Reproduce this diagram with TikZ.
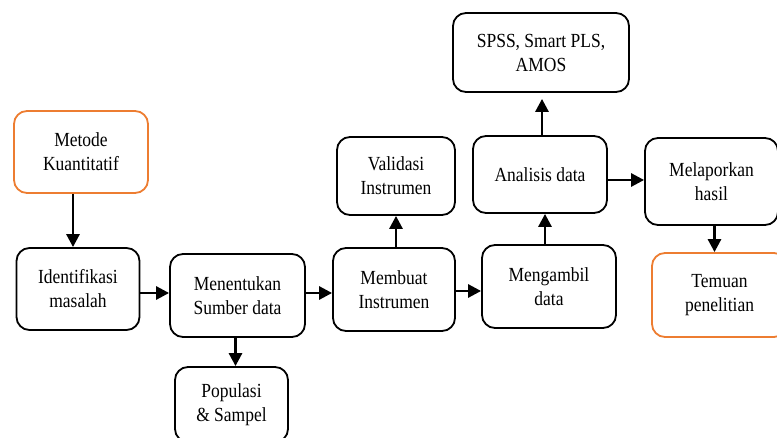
\documentclass[tikz,border=0pt]{standalone}
\usepackage{fontspec}
\setmainfont[FakeStretch=0.875]{Liberation Serif}
\usetikzlibrary{calc}
\usetikzlibrary{arrows.meta}
\tikzset{>=latex}
\definecolor{boxorange}{RGB}{237,125,49}
\tikzset{
  stepbox/.style={draw, line width=1.8pt, rounded corners=13pt, align=center,
    inner sep=0pt, font=\fontsize{20}{24}\selectfont},
  startbox/.style={stepbox, draw=boxorange},
  flow/.style={-{Triangle[length=13pt,width=13pt]}, line width=2.8pt},
}

\begin{document}
\begin{tikzpicture}[x=1pt,y=-1pt]
  \useasboundingbox (0,0) rectangle (777,438);
  \clip (0,0) rectangle (777,438);

  % Boxes
  \node[startbox, minimum width=134pt, minimum height=82pt] (met) at (81,152) {Metode\\Kuantitatif};
  \node[stepbox, minimum width=123pt, minimum height=82pt] (ide) at (78,289) {Identifikasi\\masalah};
  \node[stepbox, minimum width=135pt, minimum height=83pt] (men) at (237.5,295.5) {Menentukan\\Sumber data};
  \node[stepbox, minimum width=113pt, minimum height=75pt] (pop) at (231.5,404.5) {Populasi\\\& Sampel};
  \node[stepbox, minimum width=122pt, minimum height=83pt] (mem) at (394,289.5) {Membuat\\Instrumen};
  \node[stepbox, minimum width=118pt, minimum height=78pt] (val) at (396,176) {Validasi\\Instrumen};
  \node[stepbox, minimum width=134pt, minimum height=83pt] (amb) at (549,286.5) {Mengambil\\data};
  \node[stepbox, minimum width=134pt, minimum height=77pt] (ana) at (540,174.5) {Analisis data};
  \node[stepbox, minimum width=176pt, minimum height=79pt] (sps) at (541,52.5) {SPSS, Smart PLS,\\AMOS};
  \node[stepbox, minimum width=133pt, minimum height=87pt] (lap) at (711.5,181.5) {Melaporkan\\hasil};
  \node[startbox, minimum width=135pt, minimum height=84pt] (tem) at (719.5,295) {Temuan\\penelitian};

  % Arrows
  \draw[flow] ($(met.south)+(-8,0)$) -- ($(met.south |- ide.north)+(-8,0)$);
  \draw[flow] (ide.east |- 0,293) -- (men.west |- 0,293);
  \draw[flow] ($(men.south)+(-2,0)$) -- ($(men.south |- pop.north)+(-2,0)$);
  \draw[flow] (men.east |- 0,293) -- (mem.west |- 0,293);
  \draw[flow] ($(mem.north)+(2,0)$) -- ($(mem.north |- val.south)+(2,0)$);
  \draw[flow] (mem.east |- 0,291) -- (amb.west |- 0,291);
  \draw[flow] ($(amb.north)+(-4,0)$) -- ($(amb.north |- ana.south)+(-4,0)$);
  \draw[flow, shorten >=6pt] ($(ana.north)+(2,0)$) -- ($(ana.north |- sps.south)+(2,0)$);
  \draw[flow] (ana.east |- 0,180) -- (lap.west |- 0,180);
  \draw[flow] ($(lap.south)+(3,0)$) -- ($(lap.south |- tem.north)+(3,0)$);
\end{tikzpicture}
\end{document}
